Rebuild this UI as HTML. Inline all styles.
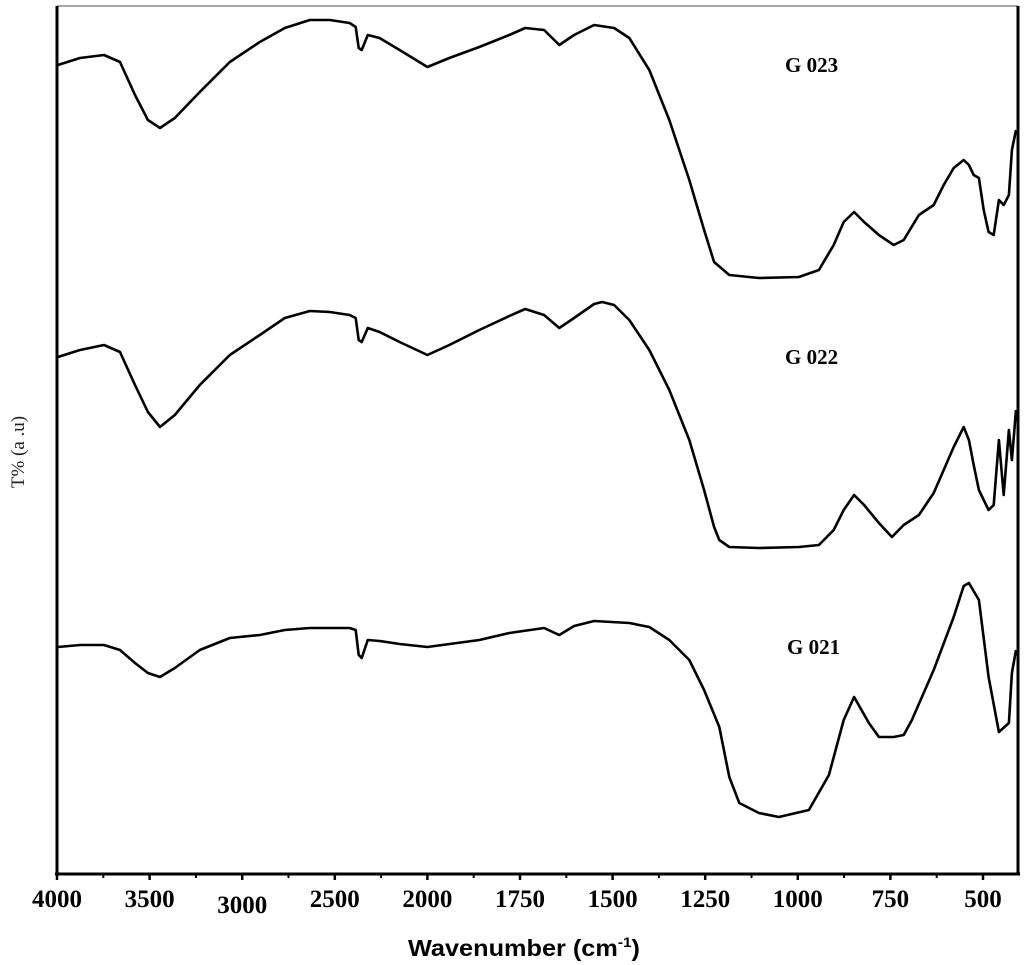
<!DOCTYPE html>
<html><head><meta charset="utf-8"><style>
html,body{margin:0;padding:0;background:#fff;}
svg{display:block;}
</style></head><body>
<svg id="chart" width="1024" height="965" viewBox="0 0 1024 965" xmlns="http://www.w3.org/2000/svg">
<rect x="0" y="0" width="1024" height="965" fill="#fff"/>
<line x1="57" y1="6" x2="1018" y2="6" stroke="#888" stroke-width="1.5"/>
<line x1="57" y1="6" x2="57" y2="875" stroke="#000" stroke-width="3"/>
<line x1="1018" y1="6" x2="1018" y2="875" stroke="#000" stroke-width="3"/>
<line x1="55" y1="874" x2="1020" y2="874" stroke="#000" stroke-width="3"/>
<g id="ticks"></g>
<g id="series"></g>
<text x="785" y="72" font-family="Liberation Serif, serif" font-weight="bold" font-size="21">G 023</text>
<text x="785" y="364" font-family="Liberation Serif, serif" font-weight="bold" font-size="21">G 022</text>
<text x="787" y="654" font-family="Liberation Serif, serif" font-weight="bold" font-size="21">G 021</text>
<text transform="translate(24,452) rotate(-90)" text-anchor="middle" font-family="Liberation Serif, serif" font-size="19" fill="#222">T% (a .u)</text>
<text x="524" y="956" text-anchor="middle" font-family="Liberation Sans, sans-serif" font-weight="bold" font-size="23" textLength="232" lengthAdjust="spacingAndGlyphs">Wavenumber (cm<tspan font-size="14" dy="-9">-1</tspan><tspan dy="9">)</tspan></text>
</svg>
<script>
const tickValues = [4000,3500,3000,2500,2000,1750,1500,1250,1000,750,500];
const tickLabels = ["4000","3500","3000","2500","2000","1750","1500","1250","1000","750","500"];
const minorTicks = [3750,3250,2750,2250,1875,1625,1375,1125,875,625];

const wn023 = [3995,3876,3746,3660,3579,3509,3444,3364,3229,3067,2905,2770,2635,2527,2420,2387,2371,2355,2322,2258,2150,2000,1941,1860,1779,1736,1685,1644,1604,1550,1496,1455,1401,1347,1293,1253,1226,1185,1105,997,943,903,876,848,821,781,741,714,673,633,606,579,552,538,525,511,498,485,471,457,444,430,422,411];
const t023 = [80.9,81.6,81.9,81.2,77.9,75.4,74.6,75.6,78.2,81.2,83.2,84.6,85.4,85.4,85.1,84.7,82.6,82.4,83.9,83.6,82.4,80.7,81.6,82.7,83.9,84.6,84.4,82.9,83.9,84.9,84.6,83.6,80.4,75.4,69.4,64.4,61.2,59.9,59.6,59.7,60.4,62.9,65.2,66.2,65.2,63.9,62.9,63.4,65.9,66.9,68.9,70.6,71.4,70.9,69.9,69.6,66.4,64.2,63.9,67.4,66.9,67.9,72.4,74.4];

const wn022 = [3995,3876,3746,3660,3579,3509,3444,3364,3229,3067,2905,2770,2635,2527,2420,2387,2371,2355,2322,2258,2150,2000,1941,1860,1779,1736,1685,1644,1604,1550,1528,1496,1455,1401,1347,1293,1253,1226,1212,1185,1105,997,943,903,876,848,821,781,746,714,673,633,606,579,552,538,525,511,498,485,471,457,444,430,422,411];
const t022 = [51.7,52.4,52.9,52.2,48.9,46.2,44.7,45.9,48.9,51.9,53.9,55.6,56.3,56.2,55.9,55.6,53.4,53.2,54.6,54.2,53.2,51.9,52.9,54.4,55.8,56.5,55.9,54.6,55.6,57.0,57.2,56.9,55.4,52.4,48.4,43.4,38.4,34.7,33.4,32.7,32.6,32.7,32.9,34.4,36.4,37.9,36.9,35.1,33.7,34.9,35.9,38.1,40.4,42.7,44.7,43.4,40.9,38.4,37.4,36.4,36.9,43.4,37.9,44.4,41.4,46.4];

const wn021 = [3995,3876,3746,3660,3579,3509,3444,3364,3229,3067,2905,2770,2635,2420,2387,2371,2355,2322,2258,2150,2000,1860,1779,1685,1644,1604,1550,1455,1401,1347,1293,1253,1212,1185,1158,1105,1051,970,916,876,848,808,781,741,714,692,633,579,552,538,511,485,457,430,422,411];
const t021 = [22.7,22.9,22.9,22.4,21.1,20.1,19.7,20.6,22.4,23.6,23.9,24.4,24.6,24.6,24.4,21.9,21.6,23.4,23.3,23.0,22.7,23.4,24.1,24.6,23.9,24.8,25.3,25.1,24.7,23.4,21.4,18.4,14.7,9.7,7.1,6.1,5.7,6.4,9.9,15.4,17.7,15.1,13.7,13.7,13.9,15.4,20.4,25.7,28.8,29.1,27.4,19.7,14.2,15.1,20.1,22.4];

function xScale(w){
  if (w >= 2000) return 57 + (4000 - w) / 500 * 92.6;
  return 427.4 + (2000 - w) / 250 * 92.6;
}
function yScale(t){ return 874 - t * 10; }

const NS = "http://www.w3.org/2000/svg";
const tg = document.getElementById('ticks');
tickValues.forEach((v,i)=>{
  const x = xScale(v);
  const l = document.createElementNS(NS,'line');
  l.setAttribute('x1',x); l.setAttribute('x2',x);
  l.setAttribute('y1',874); l.setAttribute('y2',880);
  l.setAttribute('stroke','#000'); l.setAttribute('stroke-width','2.5');
  
  
  tg.appendChild(l);
  const t = document.createElementNS(NS,'text');
  t.setAttribute('x',x);
  t.setAttribute('y', v===3000 ? 913 : 907);
  t.setAttribute('text-anchor','middle');
  t.setAttribute('font-family','Liberation Serif, serif');
  t.setAttribute('font-weight','bold');
  t.setAttribute('font-size','25');
  t.setAttribute('textLength', tickLabels[i].length*12.5);
  t.setAttribute('lengthAdjust','spacingAndGlyphs');
  t.textContent = tickLabels[i];
  
  
  tg.appendChild(t);
});
minorTicks.forEach(v=>{
  const x = xScale(v);
  const l = document.createElementNS(NS,'line');
  l.setAttribute('x1',x); l.setAttribute('x2',x);
  l.setAttribute('y1',874); l.setAttribute('y2',878);
  l.setAttribute('stroke','#000'); l.setAttribute('stroke-width','2');
  
  
  tg.appendChild(l);
});

const sg = document.getElementById('series');
function drawSeries(wns, ts, name){
  let d = '';
  wns.forEach((w,i)=>{ d += (i?'L':'M') + xScale(w).toFixed(1) + ',' + yScale(ts[i]).toFixed(1); });
  const p = document.createElementNS(NS,'path');
  p.setAttribute('d', d);
  p.setAttribute('fill','none');
  p.setAttribute('stroke','#000');
  p.setAttribute('stroke-width','2.6');
  p.setAttribute('stroke-linejoin','round');
  
  
  sg.appendChild(p);
}
drawSeries(wn023, t023, 'series-g023');
drawSeries(wn022, t022, 'series-g022');
drawSeries(wn021, t021, 'series-g021');
</script>
</body></html>
